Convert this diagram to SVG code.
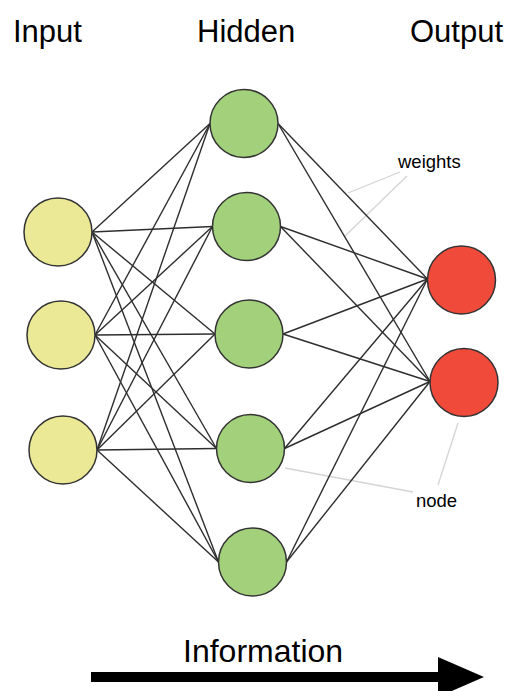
<svg xmlns="http://www.w3.org/2000/svg" width="511" height="691" viewBox="0 0 511 691">
<style>
  .t{font-family:"Liberation Sans",Arial,sans-serif;fill:#000}
  .title{font-size:31px}
  .lbl{font-size:18.5px}
  .c line{stroke:#2e2e2e;stroke-width:1.4}
  .lead line{stroke:#d4d4d4;stroke-width:1.3}
  circle{stroke:#333;stroke-width:1.5}
  .in{fill:#ebe995}
  .hid{fill:#a3d17b}
  .out{fill:#f04a3a}
</style>
<rect width="511" height="691" fill="#fff"/>
<g id="titles">
  <text class="t title" x="13" y="42">Input</text>
  <text class="t title" x="197" y="42">Hidden</text>
  <text class="t title" x="410" y="42">Output</text>
</g>
<g id="leaders" class="lead">
  <line x1="400" y1="172" x2="348" y2="193"/>
  <line x1="407" y1="176" x2="345" y2="236"/>
  <line x1="285" y1="468" x2="413" y2="492"/>
  <line x1="458" y1="423" x2="438" y2="485"/>
</g>
<g id="connectors" class="c">
  <line x1="92" y1="232" x2="210" y2="123.5"/>
  <line x1="92" y1="232" x2="212.5" y2="226.5"/>
  <line x1="92" y1="232" x2="215" y2="334"/>
  <line x1="92" y1="232" x2="216.5" y2="448.5"/>
  <line x1="92" y1="232" x2="218.5" y2="562"/>
  <line x1="95" y1="335" x2="210" y2="123.5"/>
  <line x1="95" y1="335" x2="212.5" y2="226.5"/>
  <line x1="95" y1="335" x2="215" y2="334"/>
  <line x1="95" y1="335" x2="216.5" y2="448.5"/>
  <line x1="95" y1="335" x2="218.5" y2="562"/>
  <line x1="97" y1="450" x2="210" y2="123.5"/>
  <line x1="97" y1="450" x2="212.5" y2="226.5"/>
  <line x1="97" y1="450" x2="215" y2="334"/>
  <line x1="97" y1="450" x2="216.5" y2="448.5"/>
  <line x1="97" y1="450" x2="218.5" y2="562"/>
  <line x1="278" y1="123.5" x2="427.5" y2="279"/>
  <line x1="278" y1="123.5" x2="430" y2="381.5"/>
  <line x1="280.5" y1="226.5" x2="427.5" y2="279"/>
  <line x1="280.5" y1="226.5" x2="430" y2="381.5"/>
  <line x1="283" y1="334" x2="427.5" y2="279"/>
  <line x1="283" y1="334" x2="430" y2="381.5"/>
  <line x1="284.5" y1="448.5" x2="427.5" y2="279"/>
  <line x1="284.5" y1="448.5" x2="430" y2="381.5"/>
  <line x1="286.5" y1="562" x2="427.5" y2="279"/>
  <line x1="286.5" y1="562" x2="430" y2="381.5"/>
</g>
<g id="input1"><circle class="in" cx="58" cy="232" r="34"/></g>
<g id="input2"><circle class="in" cx="61" cy="335" r="34"/></g>
<g id="input3"><circle class="in" cx="63" cy="450" r="34"/></g>
<g id="hidden1"><circle class="hid" cx="244" cy="123.5" r="34"/></g>
<g id="hidden2"><circle class="hid" cx="246.5" cy="226.5" r="34"/></g>
<g id="hidden3"><circle class="hid" cx="249" cy="334" r="34"/></g>
<g id="hidden4"><circle class="hid" cx="250.5" cy="448.5" r="34"/></g>
<g id="hidden5"><circle class="hid" cx="252.5" cy="562" r="34"/></g>
<g id="output1"><circle class="out" cx="461.5" cy="280" r="34"/></g>
<g id="output2"><circle class="out" cx="464" cy="382.5" r="34"/></g>
<g id="labels">
  <text class="t lbl" x="398" y="168">weights</text>
  <text class="t lbl" x="416" y="507">node</text>
</g>
<g id="information">
  <text class="t" style="font-size:32px" x="183" y="662">Information</text>
  <polygon points="91,672 438,672 438,657 484,677 438,697 438,682 91,682" fill="#000"/>
</g>
</svg>
